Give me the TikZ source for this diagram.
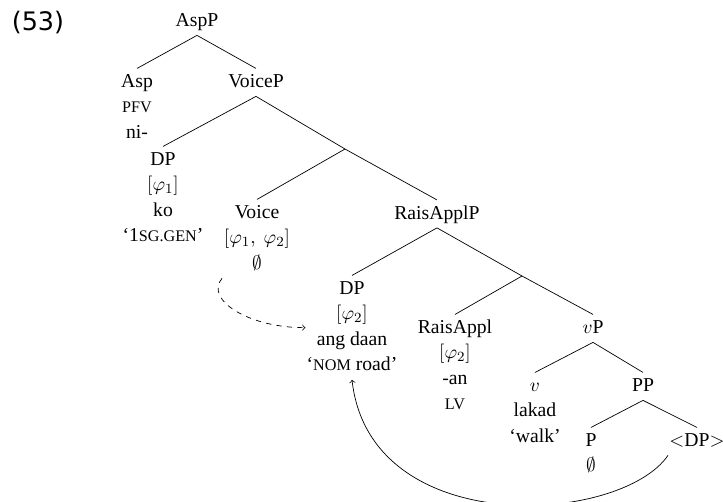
\documentclass[tikz,border=0pt]{standalone}
\usepackage{fontspec}
\setmainfont{Liberation Serif}
\newfontfamily\numfont{DejaVu Sans}
\newcommand\smc[1]{{\fontsize{9.2}{9.2}\selectfont #1}}
\begin{document}
\begin{tikzpicture}[x=0.02cm, y=-0.02cm,
    rotulo/.style={anchor=base, inner sep=0.5pt, font=\fontsize{11.2}{14.5}\selectfont},
    movimento/.style={->}]
  \def\pilha#1{\begin{tabular}[t]{@{}c@{}}#1\end{tabular}}
  \useasboundingbox (0,0) rectangle (723,501);
  % numero do exemplo
  \node[font=\fontsize{14.5}{15}\numfont] (num) at (38,23) {(53)};
  % nos da arvore
  \node[rotulo] (aspp) at (197,26.5) {\pilha{AspP}};
  \node[rotulo] (asp) at (137,87.5) {\pilha{Asp\\ \smc{PFV}\\ ni-}};
  \node[rotulo] (voicep) at (256,87.5) {\pilha{VoiceP}};
  \node[rotulo] (dpum) at (163,165.5) {\pilha{DP\\ $[\varphi_1]$\\ ko\\ `1\smc{SG.GEN}'}};
  \coordinate (barum) at (345,149);
  \node[rotulo] (voice) at (257,218.5) {\pilha{Voice\\ $[\varphi_1,\ \varphi_2]$\\ $\emptyset$}};
  \node[rotulo] (raisapplp) at (437,219) {\pilha{RaisApplP}};
  \node[rotulo] (dpdois) at (352,294.5) {\pilha{DP\\ $[\varphi_2]$\\ ang daan\\ `\smc{NOM} road'}};
  \coordinate (bardois) at (522,276);
  \node[rotulo] (raisappl) at (455,333.5) {\pilha{RaisAppl\\ $[\varphi_2]$\\ -an\\ \smc{LV}}};
  \node[rotulo] (vp) at (593,333.5) {\pilha{$v$P}};
  \node[rotulo] (v) at (535,391.5) {\pilha{$v$\\ lakad\\ `walk'}};
  \node[rotulo] (pp) at (643,391.5) {\pilha{PP}};
  \node[rotulo] (p) at (591,446.5) {\pilha{P\\ $\emptyset$}};
  \node[rotulo] (dpvest) at (697,446.5) {\pilha{$<$DP$>$}};
  % ramos
  \draw (aspp.south) -- (asp.north);
  \draw (aspp.south) -- (voicep.north);
  \draw (voicep.south) -- (dpum.north);
  \draw (voicep.south) -- (barum) -- (raisapplp.north);
  \draw (barum) -- (voice.north);
  \draw (raisapplp.south) -- (dpdois.north);
  \draw (raisapplp.south) -- (bardois) -- (vp.north);
  \draw (bardois) -- (raisappl.north);
  \draw (vp.south) -- (v.north);
  \draw (vp.south) -- (pp.north);
  \draw (pp.south) -- (p.north);
  \draw (pp.south) -- (dpvest.north);
  % movimentos
  \draw[movimento, dashed] ([xshift=-0.7cm]voice.south) .. controls (204,300) and (250,328) .. (dpdois.west);
  \draw[movimento] ([xshift=-0.58cm]dpvest.south) .. controls (620,525) and (370,540) .. (dpdois.south);
\end{tikzpicture}
\end{document}
